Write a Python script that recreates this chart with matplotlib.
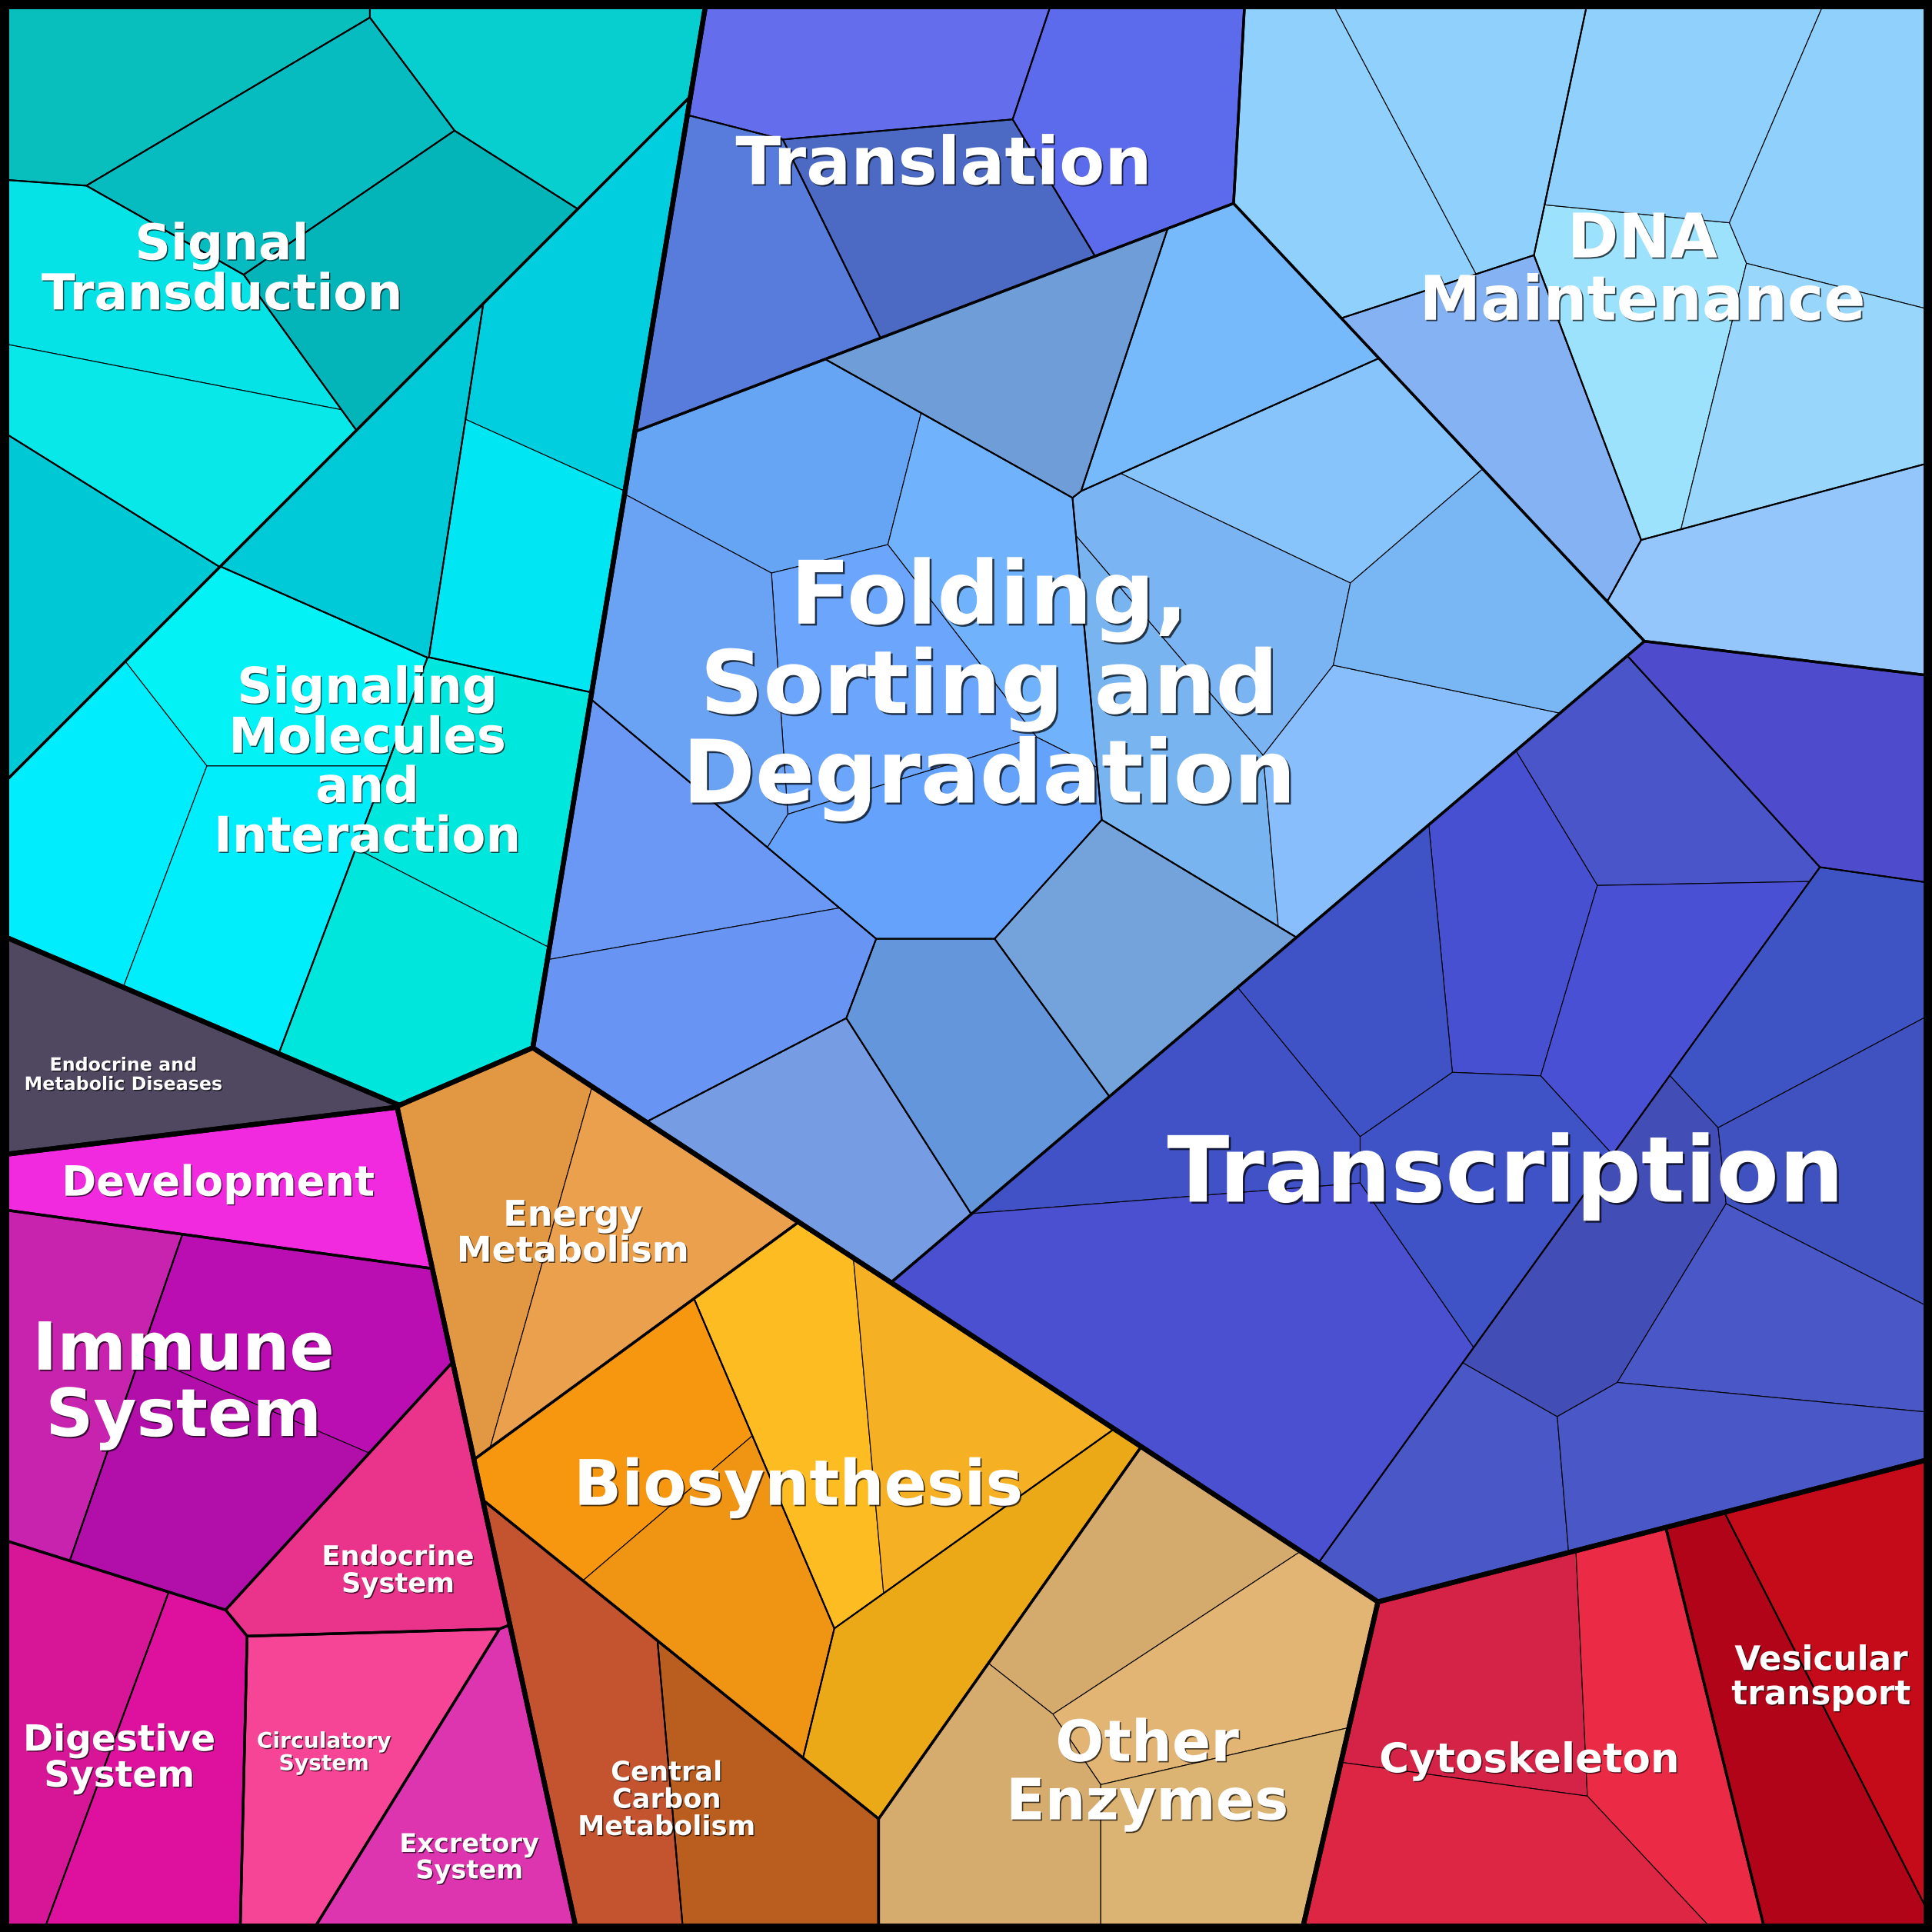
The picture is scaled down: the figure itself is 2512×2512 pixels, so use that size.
import numpy as np
import matplotlib
matplotlib.use("Agg")
import matplotlib.pyplot as plt
from matplotlib.patches import Polygon, Rectangle
import matplotlib.patheffects as pe

# ------------------------------------------------------------------ data
GROUPS = ["Environmental Information Processing", "Human Diseases", "Organismal Systems",
          "Metabolism", "Cellular Processes", "Genetic Information Processing"]

CATEGORIES = ["Signal Transduction", "Signaling Molecules and Interaction",
              "Endocrine and Metabolic Diseases", "Development", "Immune System",
              "Endocrine System", "Digestive System", "Circulatory System", "Excretory System",
              "Energy Metabolism", "Biosynthesis", "Central Carbon Metabolism", "Other Enzymes",
              "Cytoskeleton", "Vesicular transport",
              "Translation", "Folding, Sorting and Degradation", "DNA Maintenance", "Transcription"]
CATEGORY_GROUP = [0, 0, 1, 2, 2, 2, 2, 2, 2, 3, 3, 3, 3, 4, 4, 5, 5, 5, 5]

# abundances: one list per pathway (level 3), one number per protein (level 4)
V_SIGNAL_TRANSDUCTION = [[29.1], [29.5], [28.6], [30.6], [28.2, 28.1], [25.7]]
V_SIGNALING_MOLECULES = [[28.7, 24.3], [25.7], [26.0, 28.0, 30.0], [28.6, 28.3]]
V_ENDOCRINE_METABOLIC = [[28.9]]
V_DEVELOPMENT = [[29.2]]
V_IMMUNE = [[27.9], [29.3, 28.0]]
V_ENDOCRINE = [[26.8]]
V_DIGESTIVE = [[26.5], [29.9]]
V_CIRCULATORY = [[31.4]]
V_EXCRETORY = [[27.3]]
V_ENERGY = [[27.5, 28.9]]
V_BIOSYNTHESIS = [[25.9, 25.7], [27.4, 26.9], [28.9]]
V_CENTRAL_CARBON = [[30.5], [26.8]]
V_OTHER_ENZYMES = [[24.1, 27.1, 29.6, 25.3]]
V_CYTOSKELETON = [[29.4, 28.6, 32.4]]
V_VESICULAR = [[32.0], [31.3]]
V_TRANSLATION = [[28.2], [30.1], [27.4], [29.3]]
V_FOLDING = [[26.7], [26.4], [27.7, 26.4, 28.7, 28.3, 28.6], [24.1, 29.5], [26.7], [27.3], [27.3],
             [26.6, 25.2, 24.9, 26.8, 28.3]]
V_DNA = [[30.5, 27.5], [28.5], [28.5, 29.9, 30.5, 29.5], [31.0]]
V_TRANSCRIPTION = [[28.9], [25.0, 24.6, 24.7, 23.8, 26.5, 27.8, 81.1],
                   [23.3, 26.9, 25.0, 25.4, 26.5, 26.3]]

VALUES = [V_SIGNAL_TRANSDUCTION, V_SIGNALING_MOLECULES, V_ENDOCRINE_METABOLIC, V_DEVELOPMENT,
          V_IMMUNE, V_ENDOCRINE, V_DIGESTIVE, V_CIRCULATORY, V_EXCRETORY, V_ENERGY,
          V_BIOSYNTHESIS, V_CENTRAL_CARBON, V_OTHER_ENZYMES, V_CYTOSKELETON, V_VESICULAR,
          V_TRANSLATION, V_FOLDING, V_DNA, V_TRANSCRIPTION]

# ------------------------------------------------------------------ layout hints (power-diagram seeds)
GROUP_SEEDS = [(250, 385), (109, 715), (190, 1388), (640, 1290), (1377, 1460), (1137, 532)]
CATEGORY_SEEDS = [(170, 160), (390, 380), (108, 864), (204, 955), (180, 1130), (299, 1239),
                  (92, 1409), (304, 1414), (388, 1466), (430, 990), (610, 1236), (469, 1411),
                  (858, 1411), (1245, 1430), (1489, 1370), (709, 124), (860, 520), (1250, 154),
                  (1163, 876)]
PATHWAY_SEEDS = [
    [(150, 40), (368, 40), (217, 153), (258, 213), (131, 305), (30, 467)],
    [(443, 422), (300, 400), (189, 652), (378, 723)],
    [(108, 864)],
    [(165, 960)],
    [(50, 1100), (247, 1168)],
    [(290, 1270)],
    [(50, 1400), (172, 1445)],
    [(262, 1430)],
    [(385, 1490)],
    [(455, 998)],
    [(540, 1240), (674, 1183), (751, 1291)],
    [(470, 1430), (640, 1415)],
    [(900, 1420)],
    [(1240, 1430)],
    [(1440, 1440), (1540, 1389)],
    [(700, 30), (880, 90), (714, 190), (651, 221)],
    [(878, 251), (969, 281), (730, 515), (520, 765), (603, 925), (730, 844), (932, 697), (1060, 485)],
    [(1164, 164), (1215, 320), (1462, 227), (1534, 496)],
    [(1460, 600), (1156, 877), (1396, 1050)],
]
SEEDS = [
    [[(150, 40)], [(368, 40)], [(217, 153)], [(258, 213)], [(145, 236), (118, 374)], [(30, 467)]],
    [[(470, 280), (392, 453)], [(300, 400)], [(224, 552), (60, 680), (224, 742)], [(400, 640), (320, 796)]],
    [[(108, 864)]],
    [[(165, 960)]],
    [[(50, 1100)], [(250, 1075), (191, 1212)]],
    [[(290, 1270)]],
    [[(50, 1400)], [(172, 1445)]],
    [[(262, 1430)]],
    [[(385, 1490)]],
    [[(390, 980), (521, 1017)]],
    [[(490, 1175), (584, 1285)], [(645, 1150), (767, 1139)], [(751, 1291)]],
    [[(470, 1430)], [(640, 1415)]],
    [[(930, 1270), (976, 1340), (758, 1488), (1010, 1488)]],
    [[(1190, 1350), (1340, 1343), (1169, 1503)]],
    [[(1440, 1440)], [(1540, 1389)]],
    [[(700, 30)], [(880, 90)], [(714, 190)], [(651, 221)]],
    [[(878, 251)], [(969, 281)], [(630, 385), (820, 433), (670, 549), (705, 662), (537, 558)],
     [(540, 680), (565, 821)], [(603, 925)], [(730, 844)], [(932, 697)],
     [(1041, 425), (1010, 490), (902, 582), (1105, 564), (1116, 512)]],
    [[(1075, 150), (1207, 80)], [(1215, 320)], [(1347, 214), (1360, 80), (1511, 145), (1485, 248)],
     [(1534, 496)]],
    [[(1460, 600)],
     [(1344, 668), (1225, 740), (1346, 776), (1120, 750), (1219, 892), (947, 892), (961, 1070)],
     [(1167, 1242), (1305, 1000), (1440, 875), (1496, 980), (1443, 1084), (1430, 1220)]],
]

# ------------------------------------------------------------------ styles
COLORS = [
    [["#08BFBE"], ["#07CFD0"], ["#06BCC0"], ["#03B4B8"], ["#06E3E6", "#08E8E8"], ["#00C9D6"]],
    [["#01CFDF", "#00E6F3"], ["#00C9D8"], ["#03F2F5", "#00EDFD", "#00EDFC"], ["#00E8DE", "#00E6DC"]],
    [["#504860"]],
    [["#F12ADF"]],
    [["#C823AE"], ["#BB0EB2", "#B10EAA"]],
    [["#EA348C"]],
    [["#D61597"], ["#DE119E"]],
    [["#F64596"]],
    [["#DD35B0"]],
    [["#E29742", "#EAA04C"]],
    [["#F7970F", "#F09414"], ["#FDBC22", "#F5B024"], ["#EBA817"]],
    [["#C45430"], ["#BA5E20"]],
    [["#D5AA6D", "#E2B574", "#D5AB6E", "#DBB373"]],
    [["#D42346", "#EB2A46", "#DD2544"]],
    [["#B20419"], ["#C50A1A"]],
    [["#646EEC"], ["#5C6BEB"], ["#4C6AC4"], ["#587CDC"]],
    [["#6E9DD8"], ["#76BAFC"], ["#66A4F4", "#70B2FC", "#6CA6FC", "#64A2FC", "#6AA2F4"],
     ["#6A98F4", "#6895F4"], ["#769CE4"], ["#6496DC"], ["#74A2DA"],
     ["#88C4FC", "#7AB4F2", "#78B4F0", "#88BEFC", "#78B6F4"]],
    [["#90D0FC", "#8FD0FC"], ["#84B2F2"], ["#9DE2FD", "#90D0FC", "#90D0FC", "#98D6FC"], ["#94C6FC"]],
    [["#4F4BCD"], ["#4A55CA", "#4850D2", "#4950D4", "#3F52C6", "#3F52C6", "#4052C6", "#4A50D0"],
     ["#4A57C6", "#434DB6", "#3F54C4", "#3F52C0", "#4A57C6", "#4A57C6"]],
]

LABEL_TEXT = ["Signal\nTransduction", "Signaling\nMolecules\nand\nInteraction",
              "Endocrine and\nMetabolic Diseases", "Development", "Immune\nSystem",
              "Endocrine\nSystem", "Digestive\nSystem", "Circulatory\nSystem", "Excretory\nSystem",
              "Energy\nMetabolism", "Biosynthesis", "Central\nCarbon\nMetabolism", "Other\nEnzymes",
              "Cytoskeleton", "Vesicular\ntransport", "Translation",
              "Folding,\nSorting and\nDegradation", "DNA\nMaintenance", "Transcription"]
LABEL_XY = [(180, 216), (298, 616), (100, 871), (177, 958), (149, 1119), (323, 1273), (97, 1425),
            (263, 1421), (381, 1506), (465, 999), (648, 1203), (541, 1459), (931, 1436),
            (1241, 1426), (1478, 1359), (766, 130), (803, 553), (1333, 216), (1222, 948)]
LABEL_SIZE = [46.4, 46.2, 17.1, 39.1, 62, 25.4, 33.9, 20.3, 24.2, 33.2, 58.8, 25.4, 53.5, 38.2,
              31.5, 62.0, 82.0, 57.6, 85.5]

LW1, LW2, LW3, LW4, LWF = 4.6, 2.45, 1.45, 0.8, 16.5
SQ = 1568.0


# ------------------------------------------------------------------ power diagram treemap
def clip_poly(verts, labels, a, b, c, j):
    out_v, out_l = [], []
    n = len(verts)
    for k in range(n):
        px, py = verts[k]
        qx, qy = verts[(k + 1) % n]
        lab = labels[k]
        fp = a * px + b * py - c
        fq = a * qx + b * qy - c
        if fp <= 0:
            out_v.append((px, py)); out_l.append(lab)
            if fq > 0:
                t = fp / (fp - fq)
                out_v.append((px + t * (qx - px), py + t * (qy - py))); out_l.append(j)
        elif fq < 0:
            t = fp / (fp - fq)
            out_v.append((px + t * (qx - px), py + t * (qy - py))); out_l.append(lab)
    return out_v, out_l


def poly_area(v):
    if len(v) < 3:
        return 0.0
    x = np.array([p[0] for p in v]); y = np.array([p[1] for p in v])
    return 0.5 * abs(np.dot(x, np.roll(y, -1)) - np.dot(y, np.roll(x, -1)))


def layout(domain, sites, values, iters=500, tol=0.003):
    n = len(sites)
    if n == 1:
        return [list(domain)]
    S = np.array(sites, float)
    total = poly_area(domain)
    T = np.array(values, float)
    T = T / T.sum() * total
    D = np.hypot(S[:, None, 0] - S[None, :, 0], S[:, None, 1] - S[None, :, 1])
    np.fill_diagonal(D, np.inf)
    cap = 0.25 * D.min(axis=1) ** 2
    w = np.zeros(n)
    cells = []
    for it in range(iters):
        cells = []
        for i in range(n):
            v = list(domain); l = [-1] * len(v)
            for j in range(n):
                if j == i:
                    continue
                a = 2 * (S[j, 0] - S[i, 0]); b = 2 * (S[j, 1] - S[i, 1])
                c = S[j, 0] ** 2 + S[j, 1] ** 2 - S[i, 0] ** 2 - S[i, 1] ** 2 - w[j] + w[i]
                v, l = clip_poly(v, l, a, b, c, j)
                if not v:
                    break
            cells.append((v, l))
        areas = np.array([poly_area(v) for v, _ in cells])
        if np.max(np.abs(areas - T) / T) < tol:
            break
        dw = np.zeros(n)
        for i, (v, l) in enumerate(cells):
            der = 0.0
            m = len(v)
            for k in range(m):
                j = l[k]
                if j >= 0:
                    x0, y0 = v[k]; x1, y1 = v[(k + 1) % m]
                    der += np.hypot(x1 - x0, y1 - y0) / (2 * D[i, j])
            if der > 1e-9 and areas[i] > 0:
                dw[i] = (T[i] - areas[i]) / der
            else:
                dw[i] = cap[i]
            dw[i] = np.clip(dw[i], -cap[i], cap[i])
        w += 0.5 * dw
    return [v for v, _ in cells]


DOMAIN = [(0.0, 0.0), (SQ, 0.0), (SQ, SQ), (0.0, SQ)]
cat_total = [sum(sum(g) for g in VALUES[c]) for c in range(len(CATEGORIES))]
group_vals = [sum(cat_total[c] for c in range(len(CATEGORIES)) if CATEGORY_GROUP[c] == g)
              for g in range(len(GROUPS))]

fills, out1, out2, out3 = [], [], [], []
group_cells = layout(DOMAIN, GROUP_SEEDS, group_vals)
for g, gpoly in enumerate(group_cells):
    out1.append(gpoly)
    cats = [c for c in range(len(CATEGORIES)) if CATEGORY_GROUP[c] == g]
    ccells = layout(gpoly, [CATEGORY_SEEDS[c] for c in cats], [cat_total[c] for c in cats])
    for c, cpoly in zip(cats, ccells):
        out2.append(cpoly)
        subvals = [sum(v) for v in VALUES[c]]
        scells = layout(cpoly, PATHWAY_SEEDS[c], subvals)
        for k, spoly in enumerate(scells):
            out3.append(spoly)
            lcells = layout(spoly, SEEDS[c][k], VALUES[c][k])
            for m, lpoly in enumerate(lcells):
                fills.append((lpoly, COLORS[c][k][m]))

# ------------------------------------------------------------------ draw
fig = plt.figure(figsize=(25.12, 25.12), dpi=100)
ax = fig.add_axes([0, 0, 1, 1])
ax.set_xlim(0, SQ); ax.set_ylim(SQ, 0)
ax.axis("off")

for poly, col in fills:
    if len(poly) >= 3:
        ax.add_patch(Polygon(poly, closed=True, facecolor=col, edgecolor="black",
                             linewidth=LW4, joinstyle="round"))
for polys, lw in ((out3, LW3), (out2, LW2), (out1, LW1)):
    for poly in polys:
        if len(poly) >= 3:
            ax.add_patch(Polygon(poly, closed=True, fill=False, edgecolor="black",
                                 linewidth=lw, joinstyle="round"))
ax.add_patch(Rectangle((0, 0), SQ, SQ, fill=False, edgecolor="black", linewidth=LWF))

for txt, (x, y), fs in zip(LABEL_TEXT, LABEL_XY, LABEL_SIZE):
    em = fs / 1.1535
    off = max(1.0, 0.022 * fs)
    ax.text(x, y + 0.09 * em, txt, ha="center", va="center", fontsize=fs, fontweight="bold",
            family="DejaVu Sans", color="white", linespacing=1.05, multialignment="center",
            path_effects=[pe.withSimplePatchShadow(offset=(off, -off), shadow_rgbFace="black",
                                                   alpha=0.7)])

fig.savefig("out.png", dpi=100)
